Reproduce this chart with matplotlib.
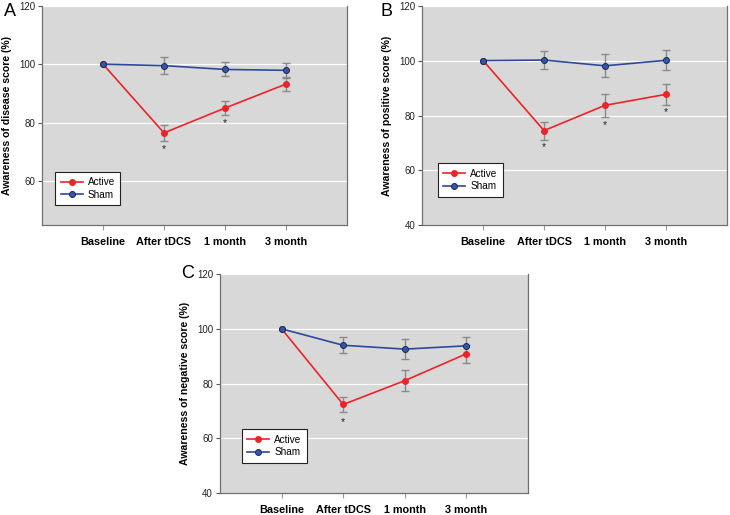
import matplotlib
matplotlib.use("Agg")
import matplotlib.pyplot as pl
import numpy as np

pl.rcParams["font.family"] = ["Liberation Sans", "DejaVu Sans"]

timepoints = ["Baseline", "After tDCS", "1 month", "3 month"]

# panel A - awareness of disease
activeA = [100, 76.5, 85.0, 93.2]
activeErrA = [0, 2.8, 2.4, 2.5]
shamA = [100, 99.5, 98.2, 97.9]
shamErrA = [0, 2.9, 2.4, 2.5]
starsA = [None, 71.0, 80.0, None]

# panel B - awareness of positive
activeB = [100, 74.5, 83.7, 87.7]
activeErrB = [0, 3.3, 4.1, 3.8]
shamB = [100, 100.2, 98.1, 100.1]
shamErrB = [0, 3.4, 4.2, 3.7]
starsB = [None, 68.6, 76.4, 81.2]

# panel C - awareness of negative
activeC = [100, 72.4, 81.1, 90.9]
activeErrC = [0, 2.9, 3.8, 3.2]
shamC = [100, 94.0, 92.6, 93.8]
shamErrC = [0, 2.9, 3.6, 3.1]
starsC = [None, 66.1, None, None]

RED = "#ee2229"
BLUE = "#2d4a9a"
BG = "#d8d8d8"

def drawPanel(axes, active, activeErr, sham, shamErr, stars, ylabel, ylim, yticks,
				legendBox):
	x = np.arange(1, len(timepoints) + 1)
	axes.set_facecolor(BG)
	for y in yticks:
		axes.axhline(y, color="white", linewidth=0.9, zorder=1)
	for values, errors in ((sham, shamErr), (active, activeErr)):
		mask = np.array(errors) > 0
		axes.errorbar(x[mask], np.array(values)[mask], yerr=np.array(errors)[mask],
			fmt="none", ecolor="#8a8a8a", elinewidth=1, capsize=2.8, capthick=1, zorder=2)
	axes.plot(x, active, color=RED, linewidth=1.2, marker="o", markersize=4,
		markerfacecolor=RED, markeredgecolor=RED, label="Active", zorder=3)
	axes.plot(x, sham, color=BLUE, linewidth=1.2, marker="o", markersize=4.3,
		markerfacecolor="#3556a8", markeredgecolor="#1a2a55", markeredgewidth=0.7,
		label="Sham", zorder=4)
	for xi, s in zip(x, stars):
		if s is not None:
			axes.text(xi, s, "*", ha="center", va="center", fontsize=7.5, color="#222222")
	axes.set_xlim(0, 5)
	axes.set_ylim(*ylim)
	axes.set_xticks(x)
	axes.set_xticklabels(timepoints, fontsize=7.8, fontweight="bold")
	axes.set_yticks(yticks)
	axes.set_yticklabels([str(t) for t in yticks], fontsize=7, color="#222222")
	axes.tick_params(axis="y", length=3, width=0.8, color="#555555", pad=2)
	axes.tick_params(axis="x", length=3.5, width=0.8, color="#999999", pad=5)
	for side in ("left", "bottom", "right", "top"):
		axes.spines[side].set_color("#707070")
		axes.spines[side].set_linewidth(0.9)
	axes.spines["top"].set_visible(False)
	axes.set_ylabel(ylabel, fontsize=7.6, fontweight="bold", labelpad=5)
	legend = axes.legend(loc="lower left", bbox_to_anchor=legendBox, fontsize=7.2,
		frameon=True, fancybox=False, edgecolor="#222222", framealpha=1,
		handlelength=2.2, handletextpad=0.5, borderpad=0.55, labelspacing=0.25,
		borderaxespad=0)
	legend.get_frame().set_linewidth(0.8)

figure = pl.figure(figsize=(7.3, 5.15), dpi=100)
W, H = 730, 515

def addAxes(left, top, right, bottom):
	return figure.add_axes([left / W, 1 - bottom / H, (right - left) / W, (bottom - top) / H])

axA = addAxes(42, 5.7, 347, 225)
drawPanel(axA, activeA, activeErrA, shamA, shamErrA, starsA,
	"Awareness of disease score (%)", (45, 120), [60, 80, 100, 120],
	(13 / 305, (225 - 205) / 219.3))

axB = addAxes(422.3, 5.7, 726.7, 225.3)
drawPanel(axB, activeB, activeErrB, shamB, shamErrB, starsB,
	"Awareness of positive score (%)", (40, 120), [40, 60, 80, 100, 120],
	(15.4 / 304.4, (225.3 - 196.7) / 219.6))

axC = addAxes(220, 274, 528, 493.3)
drawPanel(axC, activeC, activeErrC, shamC, shamErrC, starsC,
	"Awareness of negative score (%)", (40, 120), [40, 60, 80, 100, 120],
	(21.7 / 308, (493.3 - 462.7) / 219.3))

figure.text(4 / W, 1 - 11 / H, "A", fontsize=13, ha="left", va="center")
figure.text(381 / W, 1 - 11 / H, "B", fontsize=13, ha="left", va="center")
figure.text(181 / W, 1 - 274 / H, "C", fontsize=13, ha="left", va="center")

figure.savefig("out.png", dpi=100)
pl.close(figure)
